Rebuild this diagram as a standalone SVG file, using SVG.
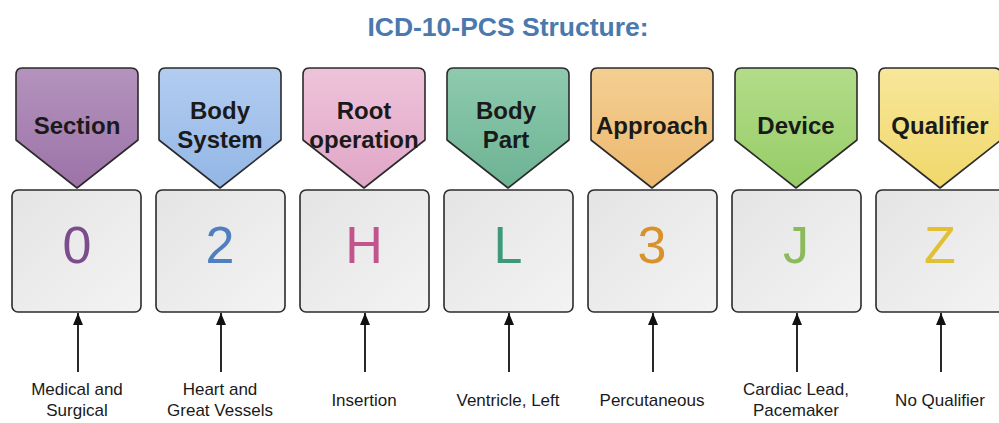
<svg xmlns="http://www.w3.org/2000/svg" width="999" height="423" viewBox="0 0 999 423">
  <defs>
    <linearGradient id="boxFill" x1="0" y1="0" x2="1" y2="1">
      <stop offset="0" stop-color="#e4e4e4"/>
      <stop offset="1" stop-color="#f3f3f3"/>
    </linearGradient>
    <linearGradient id="gSec" x1="0" y1="0" x2="0" y2="1"><stop offset="0" stop-color="#b493bd"/><stop offset="1" stop-color="#9c73a8"/></linearGradient>
    <linearGradient id="gSys" x1="0" y1="0" x2="0" y2="1"><stop offset="0" stop-color="#b3cdf0"/><stop offset="1" stop-color="#93b6e6"/></linearGradient>
    <linearGradient id="gRoot" x1="0" y1="0" x2="0" y2="1"><stop offset="0" stop-color="#eec3da"/><stop offset="1" stop-color="#e0a6c6"/></linearGradient>
    <linearGradient id="gPart" x1="0" y1="0" x2="0" y2="1"><stop offset="0" stop-color="#8fcaae"/><stop offset="1" stop-color="#6cb393"/></linearGradient>
    <linearGradient id="gAppr" x1="0" y1="0" x2="0" y2="1"><stop offset="0" stop-color="#f4cf92"/><stop offset="1" stop-color="#ecb86e"/></linearGradient>
    <linearGradient id="gDev" x1="0" y1="0" x2="0" y2="1"><stop offset="0" stop-color="#b3dc8a"/><stop offset="1" stop-color="#96cc66"/></linearGradient>
    <linearGradient id="gQual" x1="0" y1="0" x2="0" y2="1"><stop offset="0" stop-color="#f7e79a"/><stop offset="1" stop-color="#f1d76a"/></linearGradient>
    <marker id="arrow" viewBox="0 0 12 10" refX="12" refY="5" markerWidth="12" markerHeight="10" markerUnits="userSpaceOnUse" orient="auto">
      <path d="M0,0 L12,5 L0,10 Z" fill="#111"/>
    </marker>
  </defs>
  <style>
    .tag { stroke: #2b2b2b; stroke-width: 1.6; stroke-linejoin: round; }
    .tagtext { font-family: "Liberation Sans", Arial, sans-serif; font-weight: bold; font-size: 24px; fill: #1a1a1a; text-anchor: middle; }
    .box { fill: url(#boxFill); stroke: #2b2b2b; stroke-width: 1.6; }
    .code { font-family: "Liberation Sans", Arial, sans-serif; font-size: 52px; text-anchor: middle; }
    .desc { font-family: "Liberation Sans", Arial, sans-serif; font-size: 17px; fill: #1a1a1a; text-anchor: middle; }
    .title { font-family: "Liberation Sans", Arial, sans-serif; font-weight: bold; font-size: 26.5px; fill: #4a79ad; text-anchor: middle; }
    .conn line { stroke: #111; stroke-width: 1.8; }
  </style>

  <rect width="999" height="423" fill="#ffffff"/>
  <text class="title" x="508" y="36">ICD-10-PCS Structure:</text>

  <!-- Section -->
  <g id="section">
    <path class="tag" fill="url(#gSec)" d="M22,68 H131 Q138,68 138,75 V140 L77,188 L16,140 V75 Q16,68 22,68 Z"/>
    <text class="tagtext" x="77" y="134">Section</text>
    <rect class="box" x="12" y="190" width="129" height="122" rx="6"/>
    <text class="code" x="77" y="263" fill="#7b4d8c">0</text>
    <text class="desc" x="77" y="395">Medical and</text>
    <text class="desc" x="77" y="416">Surgical</text>
  </g>

  <!-- Body System -->
  <g id="body-system">
    <path class="tag" fill="url(#gSys)" d="M165,68 H274 Q281,68 281,75 V140 L220,188 L159,140 V75 Q159,68 165,68 Z"/>
    <text class="tagtext" x="220" y="119">Body</text>
    <text class="tagtext" x="220" y="148">System</text>
    <rect class="box" x="156" y="190" width="129" height="122" rx="6"/>
    <text class="code" x="220" y="263" fill="#4f7fbf">2</text>
    <text class="desc" x="220" y="395">Heart and</text>
    <text class="desc" x="220" y="416">Great Vessels</text>
  </g>

  <!-- Root operation -->
  <g id="root-operation">
    <path class="tag" fill="url(#gRoot)" d="M309,68 H418 Q425,68 425,75 V140 L364,188 L303,140 V75 Q303,68 309,68 Z"/>
    <text class="tagtext" x="364" y="119">Root</text>
    <text class="tagtext" x="364" y="148">operation</text>
    <rect class="box" x="300" y="190" width="129" height="122" rx="6"/>
    <text class="code" x="364" y="263" fill="#c2538d">H</text>
    <text class="desc" x="364" y="406">Insertion</text>
  </g>

  <!-- Body Part -->
  <g id="body-part">
    <path class="tag" fill="url(#gPart)" d="M453,68 H562 Q569,68 569,75 V140 L508,188 L447,140 V75 Q447,68 453,68 Z"/>
    <text class="tagtext" x="506" y="119">Body</text>
    <text class="tagtext" x="506" y="148">Part</text>
    <rect class="box" x="444" y="190" width="129" height="122" rx="6"/>
    <text class="code" x="508" y="263" fill="#3c9a79">L</text>
    <text class="desc" x="508" y="406">Ventricle, Left</text>
  </g>

  <!-- Approach -->
  <g id="approach">
    <path class="tag" fill="url(#gAppr)" d="M597,68 H706 Q713,68 713,75 V140 L652,188 L591,140 V75 Q591,68 597,68 Z"/>
    <text class="tagtext" x="652" y="134">Approach</text>
    <rect class="box" x="588" y="190" width="129" height="122" rx="6"/>
    <text class="code" x="652" y="263" fill="#d9912c">3</text>
    <text class="desc" x="652" y="406">Percutaneous</text>
  </g>

  <!-- Device -->
  <g id="device">
    <path class="tag" fill="url(#gDev)" d="M741,68 H850 Q857,68 857,75 V140 L796,188 L735,140 V75 Q735,68 741,68 Z"/>
    <text class="tagtext" x="796" y="134">Device</text>
    <rect class="box" x="732" y="190" width="129" height="122" rx="6"/>
    <text class="code" x="796" y="263" fill="#8bb95c">J</text>
    <text class="desc" x="796" y="395">Cardiac Lead,</text>
    <text class="desc" x="796" y="416">Pacemaker</text>
  </g>

  <!-- Qualifier -->
  <g id="qualifier">
    <path class="tag" fill="url(#gQual)" d="M885,68 H994 Q1001,68 1001,75 V140 L940,188 L879,140 V75 Q879,68 885,68 Z"/>
    <text class="tagtext" x="940" y="134">Qualifier</text>
    <rect class="box" x="876" y="190" width="129" height="122" rx="6"/>
    <text class="code" x="940" y="263" fill="#e1c133">Z</text>
    <text class="desc" x="940" y="406">No Qualifier</text>
  </g>

  <!-- Connectors: description up to code box -->
  <g id="connectors" class="conn">
    <line x1="78" y1="372" x2="78" y2="313" marker-end="url(#arrow)"/>
    <line x1="221" y1="372" x2="221" y2="313" marker-end="url(#arrow)"/>
    <line x1="365" y1="372" x2="365" y2="313" marker-end="url(#arrow)"/>
    <line x1="509" y1="372" x2="509" y2="313" marker-end="url(#arrow)"/>
    <line x1="653" y1="372" x2="653" y2="313" marker-end="url(#arrow)"/>
    <line x1="797" y1="372" x2="797" y2="313" marker-end="url(#arrow)"/>
    <line x1="941" y1="372" x2="941" y2="313" marker-end="url(#arrow)"/>
  </g>
</svg>
